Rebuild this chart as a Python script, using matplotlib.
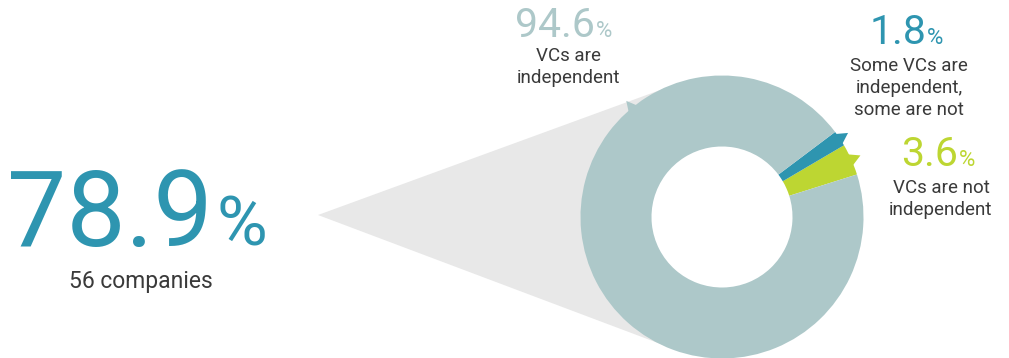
import numpy as np
import matplotlib.pyplot as plt
from matplotlib.patches import Polygon

#----------------------------------------------------------------------------

# share of companies by VC independence (%)
shares = [3.6, 1.8, 94.6]
share_labels = ['VCs are not\nindependent',
                'Some VCs are\nindependent,\nsome are not',
                'VCs are\nindependent']
headline = 78.9
headline_note = '56 companies'

GREY = '#adc8c9'
TEAL = '#2e95b0'
LIME = '#bdd632'
TEXT = '#3a3a3a'
CONE = '#e8e8e8'

NUM_FONT = dict(family=['Roboto', 'DejaVu Sans'], weight='normal')
LBL_FONT = dict(family=['Roboto', 'DejaVu Sans'], weight='normal')

W, H = 1009, 358

#----------------------------------------------------------------------------

def _polar(cx, cy, r, deg):
    a = np.radians(deg)
    return (cx + r * np.cos(a), cy + r * np.sin(a))

def _pointer(ax, cx, cy, R, theta, color, half=3.0, tip=10):
    pts = [_polar(cx, cy, R - 3, theta + half),
           _polar(cx, cy, R + tip, theta),
           _polar(cx, cy, R - 3, theta - half)]
    ax.add_patch(Polygon(pts, closed=True, color=color, lw=0, zorder=3))

def _cone(ax, apex, cx, cy, R):
    # grey wedge from the headline to the tangents of the donut
    dx, dy = cx - apex[0], cy - apex[1]
    d = np.hypot(dx, dy)
    base = np.degrees(np.arctan2(dy, dx))
    beta = np.degrees(np.arccos(R / d))
    # tangent points seen from the centre, joined along the near side
    arc = np.linspace(base + 180 - beta, base + 180 + beta, 60)
    pts = [apex] + [_polar(cx, cy, R - 1, a) for a in arc]
    ax.add_patch(Polygon(pts, closed=True, color=CONE, lw=0, zorder=1))

#----------------------------------------------------------------------------

fig = plt.figure(figsize=(W / 100, H / 100), dpi=100)
ax = fig.add_axes([0, 0, 1, 1])

cx, cy, R, ring = 722, 141, 141.5, 71

_cone(ax, (318, 143), cx, cy, R)

wedges, _ = ax.pie(shares, colors=[LIME, TEAL, GREY], startangle=17.5,
                   counterclock=True, radius=R, center=(cx, cy), frame=True,
                   wedgeprops=dict(width=ring, linewidth=0))
for w in wedges:
    w.set_zorder(2)

# small arrow tips pointing at the labels
_pointer(ax, cx, cy, R, (wedges[0].theta1 + wedges[0].theta2) / 2, LIME)
_pointer(ax, cx, cy, R, (wedges[1].theta1 + wedges[1].theta2) / 2, TEAL)
_pointer(ax, cx, cy, R, 129.5, GREY, half=2.6, tip=9)

ax.set_xlim(0, W)
ax.set_ylim(0, H)
ax.set_aspect('auto')
ax.axis('off')

# percentages and their labels (label y is the baseline of the last line)
num_pos = [(958, 192), (926, 314), (595, 321)]
lbl_pos = [(941, 143), (909, 243), (568, 275)]
colors = [LIME, TEAL, GREY]
for v, lab, (nx, ny), (lx, ly), c in zip(shares, share_labels, num_pos, lbl_pos, colors):
    ax.text(nx, ny, f'{v:.1f}', ha='right', va='baseline', color=c, fontsize=29.5, **NUM_FONT)
    ax.text(nx + 1, ny, '%', ha='left', va='baseline', color=c, fontsize=16, **NUM_FONT)
    ax.text(lx, ly, lab, ha='center', va='baseline', color=TEXT, fontsize=13.5,
            linespacing=1.27, **LBL_FONT)

# headline figure
ax.text(213, 112, f'{headline:.1f}', ha='right', va='baseline', color=TEAL, fontsize=76, **NUM_FONT)
ax.text(216, 112, '%', ha='left', va='baseline', color=TEAL, fontsize=50, **NUM_FONT)
ax.text(141, 70, headline_note, ha='center', va='baseline', color=TEXT, fontsize=16.5, **LBL_FONT)

fig.savefig('out.png', dpi=100)
